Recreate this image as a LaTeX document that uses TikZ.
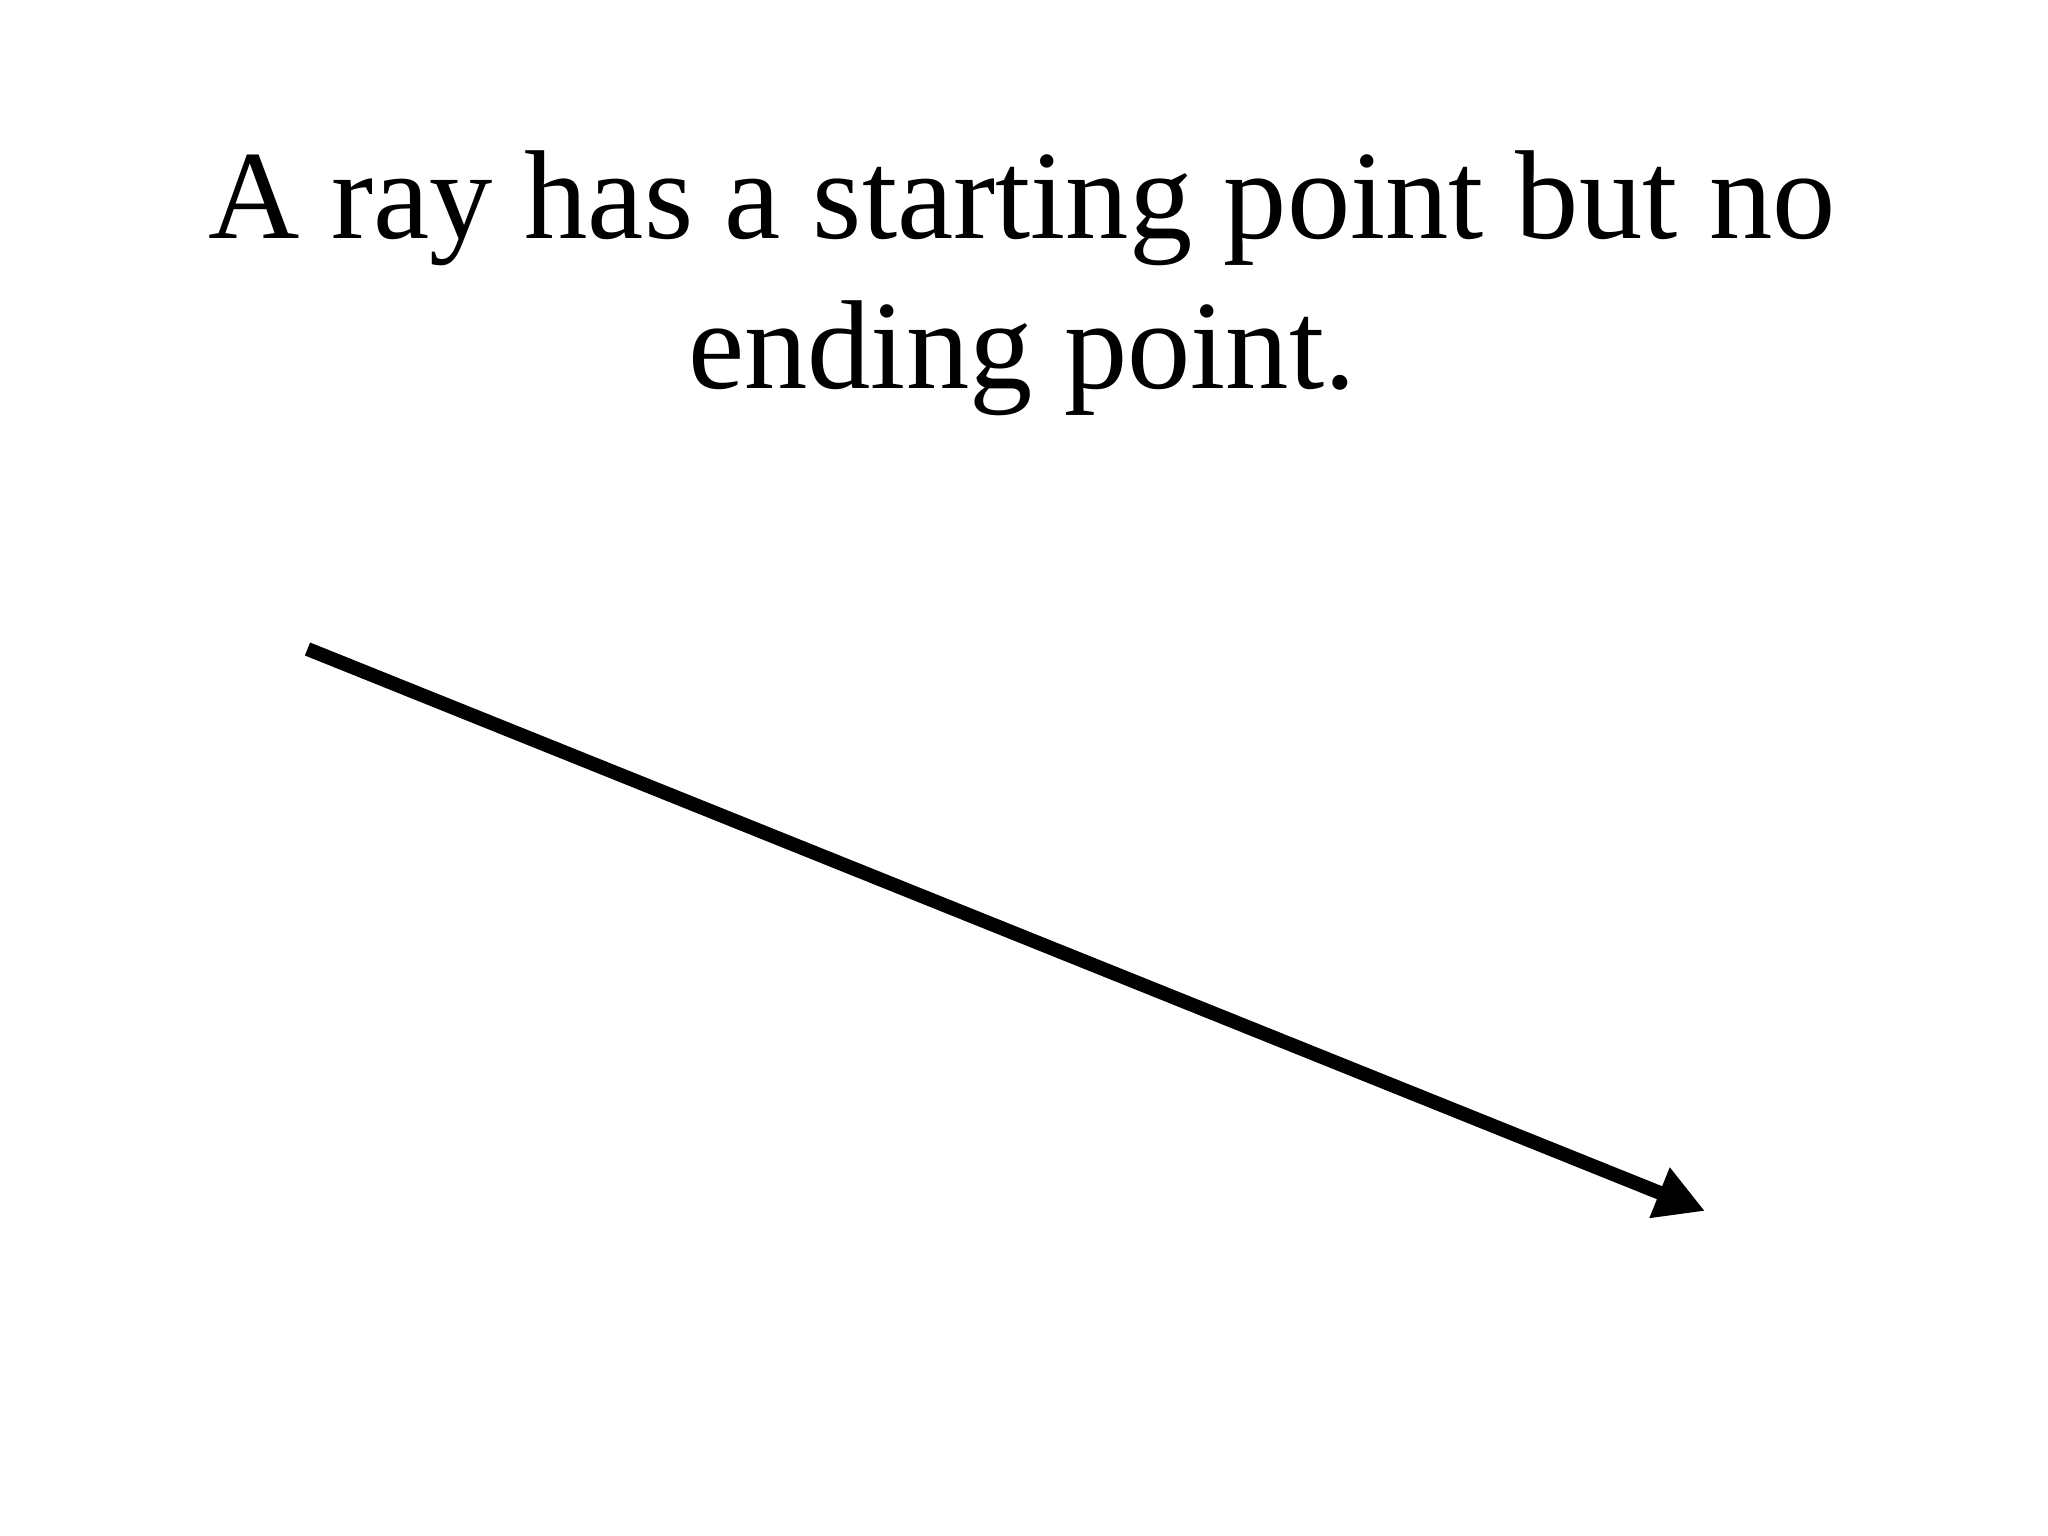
\documentclass[tikz,border=0pt]{standalone}
\usepackage{fontspec}
\setmainfont{Liberation Serif}
\usetikzlibrary{arrows.meta}

\tikzset{
	title/.style={align=center,inner sep=0pt,font=\fontsize{36}{42.7}\selectfont},
	ray/.style={line width=0.14cm,-{Triangle[length=0.49cm,width=0.51cm]}}
}

\begin{document}
\begin{tikzpicture}
	\useasboundingbox (0,0) rectangle (20.48,-15.36);
	% title
	\node[title,anchor=north] (caption) at (10.22,-1.50) {A ray has a starting point but no\\ ending point.};
	% the ray
	\coordinate (start) at (3.075,-6.49);
	\coordinate (tip) at (17.05,-12.11);
	\draw[ray] (start) -- (tip);
\end{tikzpicture}
\end{document}
